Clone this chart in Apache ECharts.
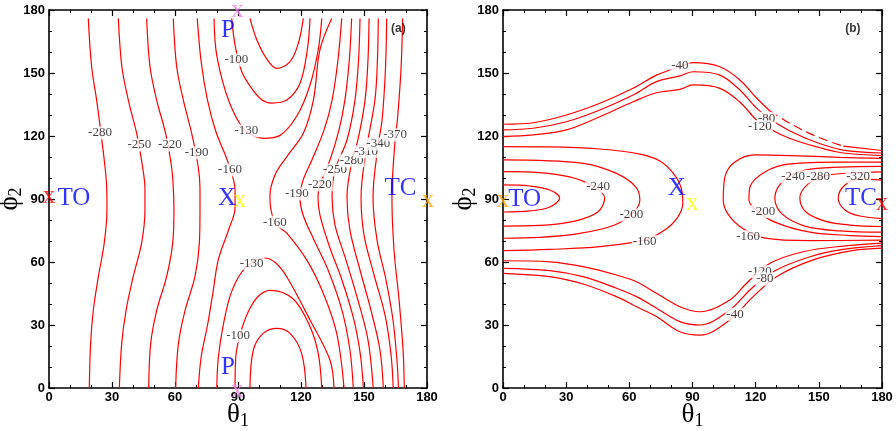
<!DOCTYPE html>
<html><head><meta charset="utf-8">
<script src="https://cdn.jsdelivr.net/npm/echarts/dist/echarts.min.js"></script>
<style>html,body{margin:0;padding:0;background:#fff}#c{width:896px;height:431px}</style>
</head><body><div id="c"></div>
<script>
// ---------- tick values ----------
const tickMin = 0, tickMax = 180, tickStep = 30;

// ---------- panel (a) contour lines: [theta1, phi2] ----------
const a_m280 = [[19.2,0],[19.8,21],[21.1,37],[23.5,53],[26.3,69],[27.6,85],[27.5,95],[26.7,105],[24.8,121],[22.7,137],[20.3,153],[18.7,176]];
const a_m250 = [[33.5,0],[34.6,21],[36.7,37],[40.1,53],[44.1,69],[45.7,85],[45.7,95],[44.6,105],[41.8,121],[37.8,137],[34.7,153],[33,176]];
const a_m220 = [[47.5,0],[48.4,21],[51.3,37],[56,53],[58.9,69],[59.5,85],[59.2,95],[58.4,105],[55.6,121],[51.3,137],[48.1,153],[46.5,176]];
const a_m190 = [[60.3,0],[61.6,21],[64.8,37],[69.5,53],[71.6,69],[71.9,85],[71.9,95],[71.1,105],[68,121],[64,137],[60.8,153],[59.2,176]];
const a_m160 = [[71.1,0],[72.5,15],[75.5,30],[78,45],[80.6,61],[85.4,75],[88.6,86],[88.6,94],[85.4,107],[79.5,122],[75.5,137],[72.5,155],[70.6,176]];
const a_m130lo = [[79.9,0],[80.6,14.3],[83,30.1],[87,46],[93.3,57],[102.9,61.9],[108,59.5],[113.2,53],[124.3,32.4],[133.8,13.3],[135.7,0]];
const a_m130up = [[78.6,176],[79.5,161],[82.4,147],[86.2,135.2],[91,125.7],[95.7,120.9],[102,118.9],[110,120.3],[118.3,130],[124.3,144.3],[128.2,161],[129.9,176]];
const a_m100up = [[87,176],[88.6,163.3],[91.8,150.6],[96.5,142.7],[101.3,137.3],[106,135.7],[113.2,137.1],[119.5,145],[123,161],[124.3,176]];
const a_m100lo = [[88.6,0],[88.9,14.3],[91,25.4],[95,36.5],[99.7,43.7],[105.2,46.5],[116.3,42.4],[124.3,29.2],[128.2,16.5],[129.9,0]];
const a_m70up = [[95.7,176],[98.9,166],[103.7,156.7],[108.4,152.2],[114.8,155.4],[118.7,164],[121.1,176]];
const a_m70lo = [[95.7,0],[97.3,18.1],[102,26],[108.4,28.4],[114.8,26],[120.3,16.5],[122.4,0]];
const a_m160R = [[134.6,176],[129,161],[125.9,137.1],[121.1,121.3],[113.2,110.1],[107.6,101.4],[105.2,91.1],[107.6,78.6],[113.2,73.7],[122.7,61],[130.6,45.1],[137,26],[140.5,0]];
const a_m190R = [[139.4,176],[137.6,156.2],[134.8,137.1],[131,122.9],[125.2,108.6],[121,99],[119.5,91],[121,82.4],[126.2,70.5],[132.9,56.2],[139.5,37.1],[143.3,18.1],[144.9,0]];
const a_m220R = [[144.1,176],[143,156.2],[140.9,137.1],[138.1,122.9],[133.8,108.6],[129,96.7],[128.1,91],[129,82.4],[133.3,68.1],[139.5,51.4],[145.2,32.4],[148.3,15.7],[149.7,0]];
const a_m250R = [[148.1,176],[147.4,156.2],[145.7,137.1],[141.9,118.1],[136.2,103.8],[134.8,91],[136.2,77.6],[141.4,61],[147.1,41.9],[151.9,22.9],[154.4,0]];
const a_m280R = [[152.4,176],[151.9,156.2],[150.5,137.1],[147.1,118.1],[144.3,108.1],[141.9,91],[143.3,75.2],[148.1,56.2],[153.3,37.1],[157.6,18.1],[159.2,0]];
const a_m310R = [[156.8,176],[156.4,156.2],[155.2,137.1],[150.9,112.4],[148.6,91],[150,72.9],[154.8,53.8],[160,34.8],[162.9,15.7],[163.9,0]];
const a_m340R = [[160.8,176],[160.2,151.4],[158.6,127.6],[156.8,116.2],[154.3,91],[156.2,70.5],[160.5,51.4],[163.8,32.4],[165.7,13.3],[166.4,0]];
const a_m370R = [[168.4,176],[167.6,151.4],[165.9,127.6],[165,120.5],[163.3,91],[164.3,65.7],[166.7,41.9],[168.6,18.1],[169.2,0]];

// contour labels panel (a): [theta1, phi2, text]
const a_labels = [
  [24.3,121.4,'-280'],[43,115.7,'-250'],[57.6,115.7,'-220'],[70.3,112,'-190'],[86.2,103.8,'-160'],
  [89.2,156.2,'-100'],[94,122.4,'-130'],[107.6,79,'-160'],[118,92.4,'-190'],[129,96.7,'-220'],
  [136.2,103.8,'-250'],[144.1,108.2,'-280'],[151,112.5,'-310'],[156.8,116.2,'-340'],[164.8,120.5,'-370'],
  [96.5,59.4,'-130'],[90.1,24.8,'-100']
];
// point markers panel (a): [theta1, phi2, text]
const a_marks = [
  [0,91,'x'],[11.9,90.5,'TO'],[84.8,90.5,'X'],[91,89.5,'x'],[167.4,95,'TC'],[180.5,89.5,'x'],
  [85.2,170.5,'P'],[85.2,10,'P'],[89.8,180,'x'],[89.6,-1,'x']
];
const a_markKinds = ['red','blue','blue','yellow','blue','orange','blue','blue','violet','violet'];

// ---------- panel (b) contour lines ----------
const b_m40top = [[0,125.6],[14.3,126.3],[30.1,130],[46,135.6],[61.8,142.7],[72.9,149],[84,153],[90.3,154.9],[103,153],[112.5,146.7],[120.4,138.1],[126.8,131.9]];
const b_m40topDash = [[126.8,131.9],[136.3,126],[149,119.7],[161.6,115.2]];
const b_m40topEnd = [[161.6,115.2],[180,113.1]];
const b_m80top = [[0,122.9],[14.3,123.7],[30.1,126.8],[46,132.4],[61.8,139.5],[72.9,145.9],[84,148.6],[90.3,150.6],[103,149],[112.5,141.9],[120.4,133.3],[126.8,128.1],[136.3,122.4],[149,116.9],[161.6,113.3],[180,111.9]];
const b_m120top = [[0,119.7],[14.3,120.5],[30.1,122.9],[46,129.2],[61.8,136.3],[72.9,140.6],[84,142.2],[90.3,144.3],[103,142.7],[112.5,136.2],[120.4,127.6],[126.8,123.3],[136.3,118.8],[149,114.8],[161.6,111.9],[180,110.7]];
const b_m120bot = [[0,60.6],[22.2,60.1],[38,57.8],[53.9,53.8],[63.4,50.6],[72.9,45.1],[84,38.7],[93.5,36.3],[107.7,41.9],[115.7,49.9],[126.8,59.4],[142.6,64.9],[161.6,67.6],[180,69]];
const b_m80bot = [[0,57],[22.2,55.9],[38,53],[53.9,47.5],[63.4,43.5],[72.9,38],[84,31.6],[93.5,30],[107.7,37.1],[117.3,46.7],[128.3,55.4],[145.8,62.5],[161.6,66],[180,67.8]];
const b_m40bot = [[0,54.6],[22.2,53],[38,49.5],[53.9,43.5],[63.4,38.7],[72.9,34],[84,26.8],[93.5,25.2],[107.7,32.4],[118.8,43.5],[129.9,53],[147.3,61],[166.4,65.5],[180,66.6]];
const b_m280TO = [[0,96.7],[12.7,96.2],[22.2,94.3],[26.9,90.5],[22.2,86.2],[12.7,84.3],[0,83.8]];
const b_m240TO = [[0,103],[17.4,102.6],[31.7,100.5],[42.6,96.2],[48.3,90.5],[45,83.8],[34.1,79.5],[17.4,77.4],[0,77.1]];
const b_m200TO = [[0,108.6],[38,107],[53.9,102.2],[63.1,95.7],[65,89.5],[62.1,83.8],[53,77.6],[36.5,73.6],[17.4,71.7],[0,71.3]];
const b_m160TO = [[0,114.9],[22.2,114.8],[46,113.8],[65,111.4],[74.5,108.1],[81.2,101.9],[84.5,95.7],[85.4,88.1],[83,81.4],[76.8,75.2],[67.3,70.5],[46,67.3],[22.2,66],[0,65.4]];
const b_m320TC = [[180,99],[169.5,99.5],[162.4,96.7],[159.2,90.5],[162.4,84.8],[169.5,81.9],[180,80.7]];
const b_m280TC = [[180,102.9],[164.8,102.4],[152.9,101],[144.8,97.1],[141,90.5],[143.9,83.8],[152.9,79.5],[164.8,77.6],[180,76.9]];
const b_m240TC = [[180,105.5],[160,105.2],[143.4,103.8],[133.9,99.5],[129.1,90.5],[132.5,82.9],[143.4,77.1],[160,74.8],[180,74.2]];
const b_m200TC = [[180,107.6],[160,107.6],[136.3,106.7],[124.4,102.9],[117.3,95.7],[116.8,89.5],[120.1,84.8],[129.1,79],[145.8,74.2],[164.8,72.6],[180,72.1]];
const b_m160TC = [[180,109.3],[160,109.8],[136.3,110.7],[119.6,111],[110.1,107.6],[105.4,100.5],[104.6,89.5],[106.8,82.9],[113.5,76.2],[124.4,71.4],[145.8,70.2],[180,70.4]];

const b_labels = [
  [84,153.5,'-40'],[125.2,128.4,'-80'],[122,124.4,'-120'],
  [45.2,95.9,'-240'],[61,82.4,'-200'],[67.3,69.7,'-160'],
  [137.8,100.6,'-240'],[149.7,100.6,'-280'],[168.7,100.6,'-320'],
  [123.6,84,'-200'],[116.4,72,'-160'],
  [122,55.4,'-120'],[124.4,51.9,'-80'],[110.2,35.1,'-40']
];
const b_marks = [
  [0,89.5,'x'],[10.3,89.8,'TO'],[82.5,94.8,'X'],[89.9,88,'x'],[170,90.2,'TC'],[180,88,'x']
];
const b_markKinds = ['orange','blue','blue','yellow','blue','red'];

// ---------- build chart ----------
const serif = 'Liberation Serif, Times New Roman, serif';
const sans = 'Liberation Sans, Arial, sans-serif';
const kindColor = {red:'#ff0000', blue:'#0000ff', yellow:'#ffff00', orange:'#ffa500', violet:'#ee82ee'};

function xAx(grid, pos, show) {
  return {
    type:'value', gridIndex:grid, position:pos, min:tickMin, max:tickMax, interval:tickStep,
    axisLine:{show:true, onZero:false, lineStyle:{color:'#000', width:1.6}},
    axisTick:{show:true, inside:true, length:6, lineStyle:{color:'#000', width:1.2}},
    minorTick:{show:true, splitNumber:3, length:3, lineStyle:{color:'#000', width:1}},
    splitLine:{show:false}, minorSplitLine:{show:false},
    axisLabel:{show:show, fontFamily:sans, fontWeight:'bold', fontSize:13, color:'#000', margin:3},
    name: show ? '{t|θ}{s|1}' : '', nameLocation:'middle', nameGap:12, nameMoveOverlap:false,
    nameTextStyle:{rich:{t:{fontFamily:serif, fontSize:27, color:'#000'}, s:{fontFamily:serif, fontSize:18, color:'#000', padding:[12,0,0,0]}}}
  };
}
function yAx(grid, pos, show) {
  return {
    type:'value', gridIndex:grid, position:pos, min:tickMin, max:tickMax, interval:tickStep,
    axisLine:{show:true, onZero:false, lineStyle:{color:'#000', width:1.6}},
    axisTick:{show:true, inside:true, length:6, lineStyle:{color:'#000', width:1.2}},
    minorTick:{show:true, splitNumber:3, length:3, lineStyle:{color:'#000', width:1}},
    splitLine:{show:false}, minorSplitLine:{show:false},
    axisLabel:{show:show, fontFamily:sans, fontWeight:'bold', fontSize:13, color:'#000', margin:4},
    name: show ? '{t|ϕ}{s|2}' : '', nameLocation:'middle', nameGap:24, nameRotate:90, nameMoveOverlap:false,
    nameTextStyle:{rich:{t:{fontFamily:serif, fontSize:27, color:'#000'}, s:{fontFamily:serif, fontSize:18, color:'#000', padding:[12,0,0,0]}}}
  };
}
function lineS(pts, idx, dashed) {
  return {type:'line', xAxisIndex:idx, yAxisIndex:idx, data:pts, smooth:0.35, symbol:'none', showSymbol:false,
    lineStyle:{color:'#ff0000', width:1.2, type: dashed ? [9,5] : 'solid'}, z:2, silent:true, animation:false};
}
function labelS(labels, idx) {
  return {type:'scatter', xAxisIndex:idx, yAxisIndex:idx, symbolSize:0, clip:false, z:5, silent:true, animation:false,
    data: labels.map(l => ({value:[l[0], l[1]], name:l[2]})),
    label:{show:true, position:'inside', formatter:'{b}', fontFamily:serif, fontSize:13, color:'#111',
      backgroundColor:'#fff', padding:[0,1]}};
}
function markS(marks, kinds, idx) {
  return {type:'scatter', xAxisIndex:idx, yAxisIndex:idx, symbolSize:0, clip:false, z:6, silent:true, animation:false,
    data: marks.map((m, i) => ({value:[m[0], m[1]], name:m[2],
      label:{color:kindColor[kinds[i]], fontSize: m[2] === 'x' ? 25 : 25}})),
    label:{show:true, position:'inside', formatter:'{b}', fontFamily:serif}};
}
function tagS(pos, text, idx) {
  return {type:'scatter', xAxisIndex:idx, yAxisIndex:idx, symbolSize:0, clip:false, z:6, silent:true, animation:false,
    data:[{value:pos, name:text}],
    label:{show:true, position:'inside', formatter:'{b}', fontFamily:sans, fontWeight:'bold', fontSize:12, color:'#000'}};
}

const linesA = [a_m280,a_m250,a_m220,a_m190,a_m160,a_m130lo,a_m130up,a_m100up,a_m100lo,a_m70up,a_m70lo,
  a_m160R,a_m190R,a_m220R,a_m250R,a_m280R,a_m310R,a_m340R,a_m370R];
const linesB = [b_m40top,b_m40topEnd,b_m80top,b_m120top,b_m120bot,b_m80bot,b_m40bot,b_m280TO,b_m240TO,b_m200TO,b_m160TO,
  b_m320TC,b_m280TC,b_m240TC,b_m200TC,b_m160TC];

const series = [];
linesA.forEach(p => series.push(lineS(p, 0, false)));
linesB.forEach(p => series.push(lineS(p, 2, false)));
series.push(lineS(b_m40topDash, 2, true));
series.push(labelS(a_labels, 0));
series.push(labelS(b_labels, 2));
series.push(markS(a_marks, a_markKinds, 0));
series.push(markS(b_marks, b_markKinds, 2));
series.push(tagS([166.4,171], '(a)', 0));
series.push(tagS([166.2,171], '(b)', 2));

const chart = echarts.init(document.getElementById('c'), null, {renderer:'canvas'});
chart.setOption({
  animation:false,
  backgroundColor:'#fff',
  grid:[
    {left:49, top:10, width:378, height:378, containLabel:false, outerBoundsMode:'none'},
    {left:503, top:10, width:379, height:378, containLabel:false, outerBoundsMode:'none'}
  ],
  xAxis:[xAx(0,'bottom',true), xAx(0,'top',false), xAx(1,'bottom',true), xAx(1,'top',false)],
  yAxis:[yAx(0,'left',true), yAx(0,'right',false), yAx(1,'left',true), yAx(1,'right',false)],
  series: series
});
</script></body></html>
